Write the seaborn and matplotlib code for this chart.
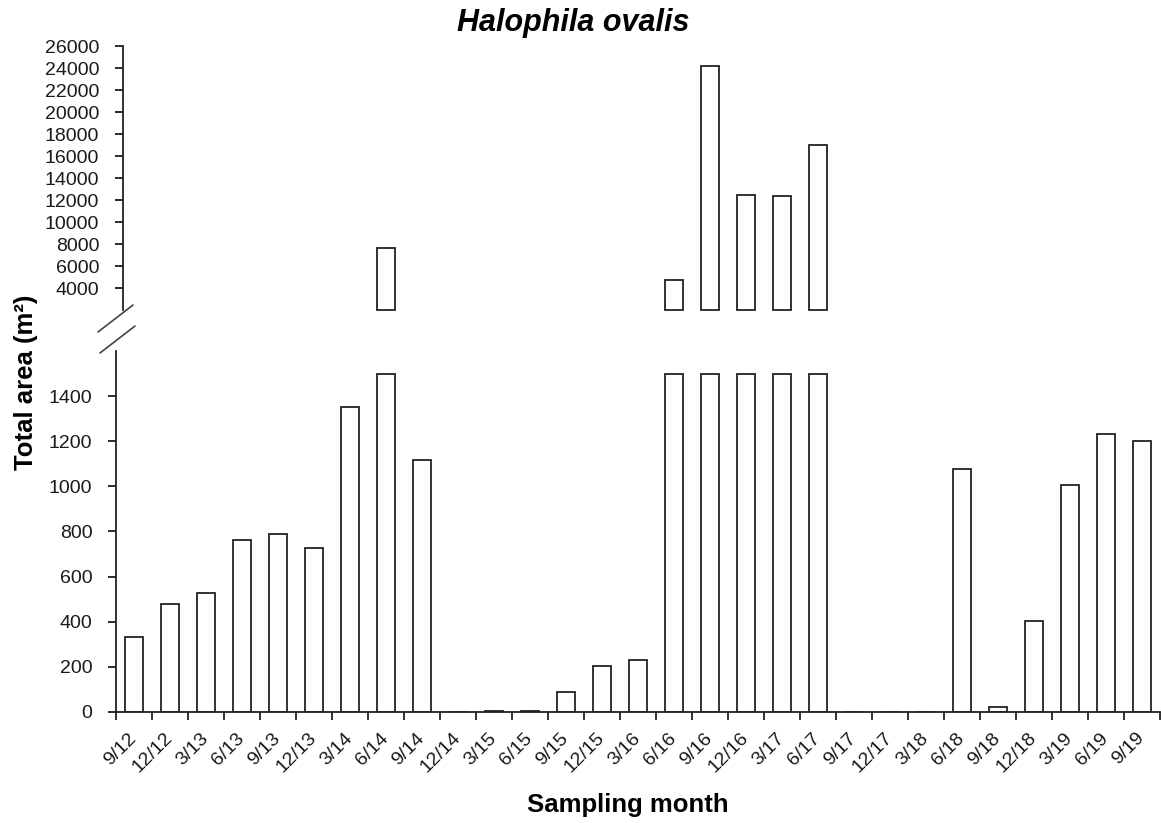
import numpy as np
import pandas as pd
import matplotlib
matplotlib.use('Agg')
import matplotlib.pyplot as plt
from matplotlib.lines import Line2D
import seaborn as sns

# Datos: área total de Halophila ovalis por mes de muestreo
sampling_month = ['9/12', '12/12', '3/13', '6/13', '9/13', '12/13', '3/14', '6/14', '9/14',
                  '12/14', '3/15', '6/15', '9/15', '12/15', '3/16', '6/16', '9/16', '12/16',
                  '3/17', '6/17', '9/17', '12/17', '3/18', '6/18', '9/18', '12/18', '3/19',
                  '6/19', '9/19']
total_area = [333, 479, 528, 761, 789, 727, 1351, 7600, 1115,
              0, 5, 5, 90, 204, 231, 4700, 24150, 12500,
              12400, 17000, 0, 0, 0, 1076, 20, 402, 1005,
              1231, 1200]

lower_ticks = [0, 200, 400, 600, 800, 1000, 1200, 1400]
upper_ticks = [4000, 6000, 8000, 10000, 12000, 14000, 16000, 18000, 20000, 22000, 24000, 26000]

# Corte del eje: abajo 0-1600 (barras grandes truncadas a 1500), arriba 2000-26000
area = np.array(total_area, dtype=float)
lower_vals = np.minimum(area, 1500)
upper_vals = np.where(area > 1600, area - 2000, np.nan)

df = pd.DataFrame({'Month': sampling_month, 'Lower': lower_vals, 'Upper': upper_vals})

sns.set_style("ticks")
plt.rcParams['font.family'] = ['Liberation Sans', 'DejaVu Sans']

fig = plt.figure(figsize=(11.61, 8.23), dpi=100)
ax_low = fig.add_axes([0.0999, 0.1349, 0.8992, 0.4386])
ax_up = fig.add_axes([0.0999, 0.6233, 0.8992, 0.3208])

bar_kws = dict(color='white', edgecolor='#222222', linewidth=1.3, width=0.5)
sns.barplot(data=df, x='Month', y='Lower', order=sampling_month, ax=ax_low, **bar_kws)
sns.barplot(data=df, x='Month', y='Upper', order=sampling_month, ax=ax_up, bottom=2000, **bar_kws)
for p in ax_up.patches:
    p.set_clip_on(False)

n = len(sampling_month)
for ax in (ax_low, ax_up):
    ax.set_xlim(-0.5, n - 0.5)
    ax.set_xlabel('')
    ax.set_ylabel('')
    for s in ('top', 'right'):
        ax.spines[s].set_visible(False)
    ax.spines['left'].set_linewidth(1.3)
    ax.spines['left'].set_color('#222222')
    ax.tick_params(axis='y', direction='out', length=6, width=1.3, pad=11,
                   labelsize=14, colors='#1a1a1a')

ax_low.set_ylim(0, 1600)
ax_low.set_yticks(lower_ticks)
ax_low.spines['bottom'].set_linewidth(1.3)
ax_low.spines['bottom'].set_color('#222222')
ax_low.set_xticks(range(n))
ax_low.set_xticklabels(sampling_month, rotation=45, ha='right', va='center',
                       rotation_mode='anchor', fontsize=14)
ax_low.tick_params(axis='x', which='major', length=0, pad=17, colors='#1a1a1a')
ax_low.set_xticks(np.arange(-0.5, n, 1.0), minor=True)
ax_low.tick_params(axis='x', which='minor', direction='out', length=6, width=1.3,
                   color='#222222')

ax_up.set_ylim(2000, 26000)
ax_up.set_yticks(upper_ticks)
ax_up.spines['bottom'].set_visible(False)
ax_up.spines['left'].set_position(('outward', -5))
ax_up.set_xticks([])

# Marcas de corte
for (x0, y0, x1, y1) in [(98, 332, 133, 305), (100, 353, 135, 326)]:
    fig.add_artist(Line2D([x0 / 1161, x1 / 1161], [1 - y0 / 823, 1 - y1 / 823],
                          color='#444444', linewidth=1.2))

fig.text(0.494, 0.972, 'Halophila ovalis', ha='center', va='center',
         fontsize=22, fontweight='bold', fontstyle='italic', color='black')
fig.text(0.541, 0.022, 'Sampling month', ha='center', va='center',
         fontsize=18.5, fontweight='bold', color='black')
fig.text(0.022, 0.535, 'Total area (m²)', ha='center', va='center', rotation=90,
         fontsize=18.5, fontweight='bold', color='black')

plt.savefig('out.png', dpi=100)
